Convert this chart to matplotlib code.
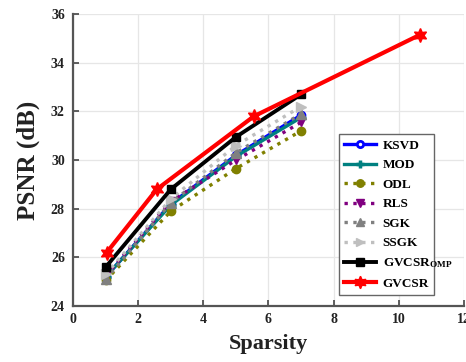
import matplotlib
matplotlib.use("Agg")
import matplotlib.pyplot as plt

plt.rcParams['font.family'] = ['Liberation Serif', 'DejaVu Serif']
plt.rcParams['font.weight'] = 'bold'
plt.rcParams['mathtext.fontset'] = 'custom'
plt.rcParams['mathtext.rm'] = 'Liberation Serif:bold'
plt.rcParams['mathtext.it'] = 'Liberation Serif:bold'
plt.rcParams['mathtext.bf'] = 'Liberation Serif:bold'

sparsity = [1, 3, 5, 7]
ksvd = [25.2, 28.2, 30.2, 31.85]
mod = [25.2, 28.15, 30.15, 31.75]
odl = [25.05, 27.9, 29.65, 31.2]
rls = [25.25, 28.3, 30.0, 31.55]
sgk = [25.1, 28.25, 30.3, 31.9]
ssgk = [25.3, 28.4, 30.6, 32.2]
gvcsr_omp = [25.6, 28.8, 30.95, 32.7]
gvcsr_x = [1.03, 2.57, 5.55, 10.65]
gvcsr = [26.2, 28.8, 31.8, 35.15]

x_ticks = [0, 2, 4, 6, 8, 10, 12]
y_ticks = [24, 26, 28, 30, 32, 34, 36]

fig = plt.figure(figsize=(4.66, 3.62), dpi=100)
ax = fig.add_axes([0.157, 0.1547, 0.838, 0.806])

lw = 2.4
ax.plot(sparsity, ksvd, color='blue', lw=lw, ls='-', marker='o', ms=5,
        mfc='white', mec='blue', mew=2, label='KSVD')
ax.plot(sparsity, mod, color=(0, 0.5, 0.5), lw=lw, ls='-', marker='+', ms=7,
        mew=2.5, label='MOD')
ax.plot(sparsity, odl, color=(0.5, 0.5, 0), lw=lw, ls=':', marker='o', ms=6,
        label='ODL')
ax.plot(sparsity, rls, color=(0.5, 0, 0.5), lw=lw, ls=':', marker='v', ms=6,
        label='RLS')
ax.plot(sparsity, sgk, color=(0.5, 0.5, 0.5), lw=lw, ls=':', marker='^', ms=7,
        label='SGK')
ax.plot(sparsity, ssgk, color=(0.75, 0.75, 0.75), lw=lw, ls=':', marker='>', ms=7,
        label='SSGK')
ax.plot(sparsity, gvcsr_omp, color='black', lw=2.8, ls='-', marker='s', ms=6,
        label=r'GVCSR$_{\mathregular{OMP}}$')
ax.plot(gvcsr_x, gvcsr, color='red', lw=3.0, ls='-', marker=(6, 1, 0), ms=10,
        label='GVCSR')

ax.set_xlim(0, 12)
ax.set_ylim(24, 36)
ax.set_xticks(x_ticks)
ax.set_yticks(y_ticks)
ax.tick_params(direction='in', labelsize=10, length=4, width=1.2, colors='#444444',
               labelcolor='#222222', pad=6)
ax.tick_params(axis='x', pad=5)
for lab in ax.get_xticklabels() + ax.get_yticklabels():
    lab.set_fontweight('bold')
ax.grid(True, color='#e6e6e6', lw=0.9)
ax.set_axisbelow(True)
for s in ['top', 'right']:
    ax.spines[s].set_visible(False)
for s in ['left', 'bottom']:
    ax.spines[s].set_color('#555555')
    ax.spines[s].set_linewidth(1.6)

ax.set_xlabel('Sparsity', fontsize=16, fontweight='bold', color='#222222', labelpad=6)
ax.set_ylabel('PSNR (dB)', fontsize=18, fontweight='bold', color='#222222', labelpad=8)

leg = ax.legend(loc='lower left', bbox_to_anchor=(0.7275, 0.185, 0.204, 0.439),
                bbox_transform=fig.transFigure, mode='expand',
                fancybox=False, edgecolor='#666666', framealpha=1,
                handlelength=2.4, handletextpad=0.5, borderaxespad=0,
                labelspacing=0.55, markerscale=0.9,
                prop={'weight': 'bold', 'size': 9.5})
leg.get_frame().set_linewidth(1.0)

fig.savefig('out.png', dpi=100)
